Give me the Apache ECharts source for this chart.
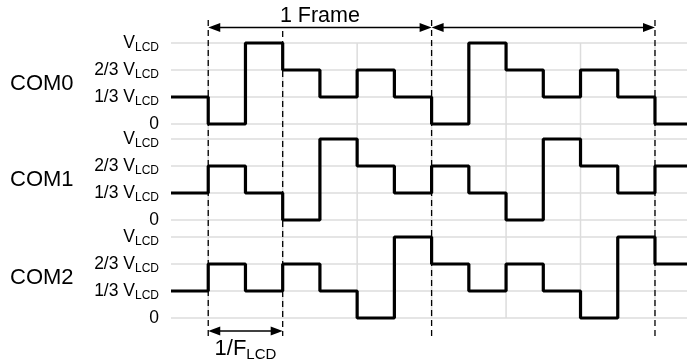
<!DOCTYPE html>
<html>
<head>
<meta charset="utf-8">
<script src="https://cdn.jsdelivr.net/npm/echarts@6/dist/echarts.min.js"></script>
<style>
html, body { margin: 0; padding: 0; background: #fff; }
#main { width: 687px; height: 364px; }
</style>
</head>
<body>
<div id="main"></div>
<script>
// level of each LCD step, in thirds of VLCD
var com0 = [1, 0, 3, 2, 1, 2, 1, 0, 3, 2, 1, 2, 1, 0];
var com1 = [1, 2, 1, 0, 3, 2, 1, 2, 1, 0, 3, 2, 1, 2];
var com2 = [1, 2, 1, 2, 1, 0, 3, 2, 1, 2, 1, 0, 3, 2];
var comNames = ['COM0', 'COM1', 'COM2'];
var levelLabels = ['0', '1/3 V', '2/3 V', 'V'];
var gridSteps = [1, 3, 5, 7, 9, 11, 13];   // light vertical grid lines
var frameSteps = [1, 7, 13];               // frame boundaries
var periodSteps = [1, 3];                  // 1/FLCD marker
var frameLabel = '1 Frame';

var xMax = 13.86;
var plotLeft = 171;
var panelTop = [43, 139, 237];
var panelH = 81;
var topArrowY = 27.5;
var botArrowY = 331;
var font = '"Liberation Sans", Arial, Helvetica, sans-serif';

function stepData(arr) {
	var d = [];
	for (var i = 0; i < arr.length; i++) {
		d.push([i, arr[i]]);
	}
	d.push([xMax, arr[arr.length - 1]]);
	return d;
}

function arrowShape(x1, x2, y) {
	var head = 12, half = 4.5;
	return [
		{ type: 'line', shape: { x1: x1 + head - 1, y1: y, x2: x2 - head + 1, y2: y },
			style: { stroke: '#000', lineWidth: 1.4 } },
		{ type: 'polygon', shape: { points: [[x1, y], [x1 + head, y - half], [x1 + head, y + half]] },
			style: { fill: '#000' } },
		{ type: 'polygon', shape: { points: [[x2, y], [x2 - head, y - half], [x2 - head, y + half]] },
			style: { fill: '#000' } }
	];
}

var myChart = echarts.init(document.getElementById('main'));

var grids = [], xAxes = [], yAxes = [], series = [];
var coms = [com0, com1, com2];
for (var i = 0; i < 3; i++) {
	grids.push({ left: plotLeft, right: 0, top: panelTop[i], height: panelH });
	xAxes.push({ gridIndex: i, type: 'value', min: 0, max: xMax, show: false });
	yAxes.push({
		gridIndex: i, type: 'value', min: 0, max: 3, interval: 1,
		axisLine: { show: false },
		axisTick: { show: false },
		splitLine: { lineStyle: { color: '#dcdcdc', width: 1.5 } },
		axisLabel: {
			margin: 12,
			formatter: function (v) {
				if (v == 0) return '{v|0}';
				return '{v|' + levelLabels[v] + '}{s|LCD}';
			},
			rich: {
				v: { fontSize: 17.5, fontFamily: font, color: '#000' },
				s: { fontSize: 12, fontFamily: font, color: '#000', padding: [10, 0, 0, 0] }
			}
		}
	});
	series.push({
		type: 'line', xAxisIndex: i, yAxisIndex: i,
		step: 'end', data: stepData(coms[i]),
		symbol: 'none', clip: false, z: 4,
		lineStyle: { color: '#000', width: 3.2 }
	});
}

// overlay grid in pixel rows for the markers
grids.push({ left: plotLeft, right: 0, top: 0, bottom: 0 });
xAxes.push({ gridIndex: 3, type: 'value', min: 0, max: xMax, show: false });
yAxes.push({ gridIndex: 3, type: 'value', min: 0, max: 364, inverse: true, show: false });

series.push({
	type: 'custom', xAxisIndex: 3, yAxisIndex: 3, silent: true, z: 1,
	data: gridSteps.map(function (s) { return [s, 0]; }),
	renderItem: function (params, api) {
		var x = api.coord([api.value(0), 0])[0];
		return { type: 'line',
			shape: { x1: x, y1: panelTop[0], x2: x, y2: panelTop[2] + panelH },
			style: { stroke: '#dcdcdc', lineWidth: 1.5 } };
	}
});

// dashed markers: frame boundaries and the 1/FLCD period
var dashSteps = frameSteps.concat(periodSteps.filter(function (s) { return frameSteps.indexOf(s) < 0; }));
series.push({
	type: 'custom', xAxisIndex: 3, yAxisIndex: 3, silent: true, z: 5,
	data: dashSteps.map(function (s) { return [s, 0]; }),
	renderItem: function (params, api) {
		var s = api.value(0);
		var x = api.coord([s, 0])[0];
		var y1 = frameSteps.indexOf(s) >= 0 ? topArrowY - 7.5 : panelTop[0] - 12;
		return { type: 'line',
			shape: { x1: x, y1: y1, x2: x, y2: botArrowY + 5 },
			style: { stroke: '#000', lineWidth: 1.3, lineDash: [6, 4] } };
	}
});

var framePairs = [];
for (var j = 0; j < frameSteps.length - 1; j++) framePairs.push([frameSteps[j], frameSteps[j + 1]]);

series.push({
	type: 'custom', xAxisIndex: 3, yAxisIndex: 3, silent: true, z: 6,
	data: framePairs,
	renderItem: function (params, api) {
		var x1 = api.coord([api.value(0), 0])[0];
		var x2 = api.coord([api.value(1), 0])[0];
		var kids = arrowShape(x1, x2, topArrowY);
		if (params.dataIndex === 0) {
			kids.push({ type: 'text', x: (x1 + x2) / 2, y: topArrowY - 11,
				style: { text: frameLabel, fill: '#000', font: '21.5px ' + font,
					align: 'center', verticalAlign: 'middle' } });
		}
		return { type: 'group', children: kids };
	}
});

series.push({
	type: 'custom', xAxisIndex: 3, yAxisIndex: 3, silent: true, z: 6,
	data: [periodSteps],
	renderItem: function (params, api) {
		var x1 = api.coord([api.value(0), 0])[0];
		var x2 = api.coord([api.value(1), 0])[0];
		var kids = arrowShape(x1, x2, botArrowY);
		kids.push({ type: 'text', x: (x1 + x2) / 2, y: botArrowY + 18,
			style: { text: '{a|1/F}{b|LCD}', fill: '#000', align: 'center', verticalAlign: 'middle',
				rich: {
					a: { fontSize: 22, fontFamily: font, color: '#000' },
					b: { fontSize: 15, fontFamily: font, color: '#000', padding: [11, 0, 0, 0] }
				} } });
		return { type: 'group', children: kids };
	}
});

var labels = comNames.map(function (name, k) {
	return { type: 'text', x: 10, y: panelTop[k] + panelH / 2,
		style: { text: name, fill: '#000', font: '22px ' + font, verticalAlign: 'middle' } };
});

var option = {
	animation: false,
	backgroundColor: '#fff',
	grid: grids,
	xAxis: xAxes,
	yAxis: yAxes,
	series: series,
	graphic: labels
};

myChart.setOption(option);
</script>
</body>
</html>
